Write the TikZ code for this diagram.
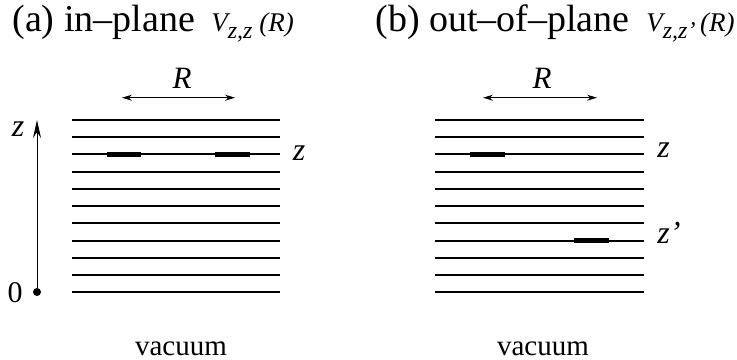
\documentclass[tikz,border=0pt]{standalone}
\usepackage{fontspec}
\setmainfont{Liberation Serif}
\usetikzlibrary{arrows.meta}

\newcommand{\lowsub}[1]{\raisebox{-3.5pt}{\fontsize{12}{13}\selectfont\itshape #1}}

\tikzset{
  layer/.style={line width=1pt},
  site/.style={line width=2.8pt},
  zlabel/.style={inner sep=0pt, anchor=base, font=\fontsize{16}{18}\selectfont\itshape},
  rlabel/.style={inner sep=0pt, anchor=base, font=\fontsize{15.5}{17}\selectfont\itshape},
  title/.style={anchor=base west, inner sep=0pt, font=\fontsize{19}{21}\selectfont},
  potential/.style={anchor=base west, inner sep=0pt, font=\fontsize{13.5}{15}\selectfont\itshape},
  rarrow/.style={{Stealth[length=5pt,width=3pt]}-{Stealth[length=5pt,width=3pt]}, line width=0.5pt},
}

\begin{document}
\begin{tikzpicture}[x=0.5pt,y=-0.5pt]
  \useasboundingbox (0,0) rectangle (737,359);

  % titles
  \node[title] (titlea) at (12,31) {(a) in--plane};
  \node[potential] (pota) at (211,31) {V\lowsub{z,z} (R)};
  \node[title] (titleb) at (375,31) {(b) out--of--plane};
  \node[potential] (potb) at (646,31) {V\lowsub{z,z’}\,(R)};

  % layers
  \foreach \i in {0,...,10} {
    \draw[layer] (72,{120+17.23*\i}) -- (280,{120+17.23*\i});
    \draw[layer] (435,{120+17.23*\i}) -- (644,{120+17.23*\i});
  }

  % sites in plane z
  \draw[site] (107,154.5) -- (141,154.5);
  \draw[site] (215,154.5) -- (250,154.5);
  % sites in planes z and z'
  \draw[site] (470,154.5) -- (505,154.5);
  \draw[site] (574,240.6) -- (609,240.6);

  % distance R
  \coordinate (ra1) at (122,97.7);
  \coordinate (ra2) at (235,97.7);
  \draw[rarrow] (ra1) -- (ra2);
  \node[rlabel] (ra) at (182,88) {R};
  \coordinate (rb1) at (483,97.7);
  \coordinate (rb2) at (597,97.7);
  \draw[rarrow] (rb1) -- (rb2);
  \node[rlabel] (rb) at (542,88) {R};

  % z axis
  \node[circle, fill, inner sep=0pt, minimum size=4pt] (orig) at (37,292) {};
  \coordinate (ztop) at (37,120);
  \draw[-{Stealth[length=9pt,width=4pt]}, line width=0.5pt] (orig) -- (ztop);
  \node[zlabel] (zaxis) at (18,136.5) {z};
  \node[inner sep=0pt, anchor=base, font=\fontsize{15}{17}\selectfont] (zero) at (15,302) {0};

  % plane labels
  \node[zlabel] (za) at (299,160) {z};
  \node[zlabel, anchor=base west] (zb) at (657,157) {z};
  \node[zlabel, anchor=base west] (zpb) at (657,243) {z’};

  % vacuum
  \node[inner sep=0pt, anchor=base, font=\fontsize{14.5}{16}\selectfont] (vaca) at (181,355) {vacuum};
  \node[inner sep=0pt, anchor=base, font=\fontsize{14.5}{16}\selectfont] (vacb) at (543,355) {vacuum};
\end{tikzpicture}
\end{document}
